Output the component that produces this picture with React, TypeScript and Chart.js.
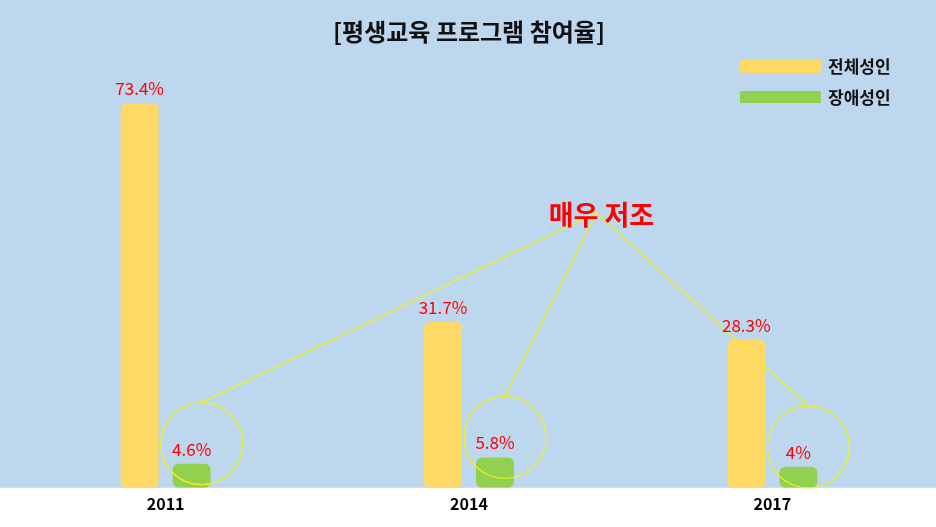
import React, { useEffect, useRef } from "react";
import { Chart, registerables } from "chart.js";

Chart.register(...registerables);

const categories = ["2011", "2014", "2017"];
const allAdults = [73.4, 31.7, 28.3];
const disabledAdults = [4.6, 5.8, 4];
const seriesNames = ["전체성인", "장애성인"];
const seriesColors = ["#FFD966", "#92D050"];
const titleText = "[평생교육 프로그램 참여율]";
const calloutText = "매우 저조";

const FONT = "'Noto Sans CJK KR', 'Noto Sans', sans-serif";

export default function App() {
  const ref = useRef<HTMLCanvasElement>(null);

  useEffect(() => {
    document.body.style.margin = "0";
    const canvas = ref.current;
    if (!canvas) return;

    const bgPlugin = {
      id: "bgPlugin",
      beforeDraw(chart: any) {
        const { ctx, chartArea } = chart;
        ctx.save();
        ctx.fillStyle = "#FFFFFF";
        ctx.fillRect(0, 0, chart.width, chart.height);
        ctx.fillStyle = "#BDD7EE";
        ctx.fillRect(0, 0, chart.width, chartArea.bottom);
        ctx.restore();
      },
    };

    const overlayPlugin = {
      id: "overlayPlugin",
      afterDatasetsDraw(chart: any) {
        const { ctx } = chart;
        const xs = chart.scales.x;
        const ys = chart.scales.y;
        ctx.save();

        // callout anchor
        const ax = xs.getPixelForValue(1.42);
        const ay = ys.getPixelForValue(52.5);

        // circles and connecting lines around the second series labels
        const meta1 = chart.getDatasetMeta(1);
        ctx.strokeStyle = "#F0F01E";
        ctx.lineWidth = 1.3;
        const r = 41;
        meta1.data.forEach((bar: any) => {
          const cx = bar.x + 10;
          const cy = bar.y - 20;
          ctx.beginPath();
          ctx.arc(cx, cy, r, 0, Math.PI * 2);
          ctx.stroke();
          ctx.beginPath();
          ctx.moveTo(cx, cy - r);
          ctx.lineTo(ax, ay);
          ctx.stroke();
        });

        // value labels
        ctx.font = `17px ${FONT}`;
        ctx.fillStyle = "#FF0000";
        ctx.textAlign = "center";
        ctx.textBaseline = "alphabetic";
        chart.data.datasets.forEach((ds: any, di: number) => {
          const meta = chart.getDatasetMeta(di);
          meta.data.forEach((bar: any, i: number) => {
            ctx.fillText(`${ds.data[i]}%`, bar.x, bar.y - 8);
          });
        });

        // callout text
        ctx.font = `bold 27px ${FONT}`;
        ctx.fillStyle = "#FF0000";
        ctx.textBaseline = "middle";
        ctx.fillText(calloutText, ax + 5, ay + 2);

        // custom legend
        const bx = chart.width - 196;
        const rows = [66, 97];
        chart.data.datasets.forEach((ds: any, di: number) => {
          const y = rows[di];
          ctx.fillStyle = ds.backgroundColor;
          const h = di === 0 ? 14 : 12;
          ctx.beginPath();
          ctx.roundRect(bx, y - h / 2, 81, h, di === 0 ? 3 : 0);
          ctx.fill();
          ctx.fillStyle = "#111111";
          ctx.font = `bold 17px ${FONT}`;
          ctx.textAlign = "left";
          ctx.textBaseline = "middle";
          ctx.fillText(ds.label, bx + 88, y + 1);
        });

        ctx.restore();
      },
    };

    const chart = new Chart(canvas, {
      type: "bar",
      data: {
        labels: categories,
        datasets: [
          {
            label: seriesNames[0],
            data: allAdults,
            backgroundColor: seriesColors[0],
            borderRadius: 6,
            borderSkipped: false,
            categoryPercentage: 0.343,
            barPercentage: 0.73,
          },
          {
            label: seriesNames[1],
            data: disabledAdults,
            backgroundColor: seriesColors[1],
            borderRadius: 6,
            borderSkipped: false,
            categoryPercentage: 0.343,
            barPercentage: 0.73,
          },
        ],
      },
      options: {
        animation: false,
        responsive: false,
        maintainAspectRatio: false,
        layout: { padding: { left: 14, right: 12, top: 0, bottom: 6 } },
        plugins: {
          legend: { display: false },
          tooltip: { enabled: false },
          title: {
            display: true,
            text: titleText,
            color: "#111111",
            font: { family: FONT, size: 24, weight: "bold" },
            padding: { top: 17, bottom: 23 },
          },
        },
        scales: {
          x: {
            grid: { display: false, drawTicks: false },
            border: { display: false },
            ticks: {
              color: "#000000",
              font: { family: FONT, size: 16, weight: "bold" },
              padding: 7,
            },
          },
          y: {
            display: false,
            min: 0,
            max: 80,
          },
        },
      },
      plugins: [bgPlugin, overlayPlugin],
    });

    return () => chart.destroy();
  }, []);

  return (
    <div style={{ width: 936, height: 527 }}>
      <canvas ref={ref} width={936} height={527} style={{ display: "block" }} />
    </div>
  );
}
